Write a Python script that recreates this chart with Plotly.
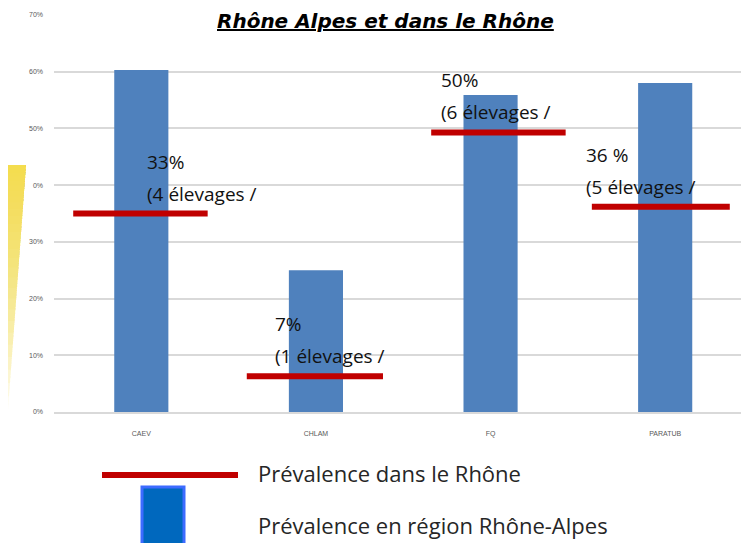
import plotly.graph_objects as go

# data
categories = ["CAEV", "CHLAM", "FQ", "PARATUB"]
region_prev = [0.603, 0.25, 0.559, 0.58]      # Prévalence en région Rhône-Alpes (bars)
rhone_prev = [0.35, 0.063, 0.493, 0.362]      # Prévalence dans le Rhône (red lines)
rhone_pct = ["33%", "7%", "50%", "36 %"]
rhone_farms = ["(4 élevages /", "(1 élevages /", "(6 élevages /", "(5 élevages /"]
y_ticks = [0, 0.1, 0.2, 0.3, 0.4, 0.5, 0.6, 0.7]
y_ticktext = ["0%", "10%", "20%", "30%", "0%", "50%", "60%", "70%"]

# styling offsets (in category units)
line_left = [-0.39, -0.396, -0.34, -0.42]
line_right = [0.38, 0.384, 0.43, 0.37]
label_dx = [0.02, -0.246, -0.293, -0.464]

# the page adds an 8px body margin, so the figure is a bit smaller
OFF = 8
W, H = 749 - OFF, 543 - OFF
L, R, T, B = 46, 0, 7, 131


def px(x):
    # screen pixel -> paper x
    return (x - OFF - L) / (W - L - R)


def py(y):
    # screen pixel -> paper y
    return (H - B - (y - OFF)) / (H - T - B)


fig = go.Figure()

x_idx = list(range(len(categories)))

fig.add_trace(go.Bar(
    x=x_idx, y=region_prev, width=0.31,
    marker=dict(color="#4F81BD", line=dict(width=0)),
    showlegend=False, hoverinfo="skip",
))

lab_font = dict(family="Open Sans", size=19, color="#111111")
for i, v in enumerate(rhone_prev):
    fig.add_trace(go.Scatter(
        x=[i + line_left[i], i + line_right[i]], y=[v, v],
        mode="lines", line=dict(color="#C00000", width=6),
        showlegend=False, hoverinfo="skip",
    ))
    fig.add_annotation(x=i + label_dx[i], y=v, xref="x", yref="y",
                       text=rhone_pct[i], showarrow=False, xanchor="left",
                       yanchor="middle", yshift=52, font=lab_font)
    fig.add_annotation(x=i + label_dx[i], y=v, xref="x", yref="y",
                       text=rhone_farms[i], showarrow=False, xanchor="left",
                       yanchor="middle", yshift=20, font=lab_font)

shapes = []

# white band hiding the top gridline behind the title
shapes.append(dict(type="rect", xref="paper", yref="paper", layer="above",
                   x0=px(185), x1=px(590), y0=py(22), y1=py(9),
                   fillcolor="white", line=dict(width=0)))

# yellow wedge on the left edge, fading downwards:
# stacked translucent wedges that all start at the top give a smooth fade
top, bot, wtop = 165, 410, 18
n = 30
for k in range(1, n + 1):
    yb = top + (bot - top) * (k / n) ** 1.7
    xb = wtop * (1 - (yb - top) / (bot - top))
    path = "M {} {} L {} {} L {} {} L {} {} Z".format(
        px(OFF), py(top), px(OFF + wtop), py(top), px(OFF + xb), py(yb), px(OFF), py(yb))
    shapes.append(dict(type="path", xref="paper", yref="paper", path=path,
                       fillcolor="rgba(247,222,70,0.085)",
                       line=dict(width=0), layer="above"))

# manual legend
shapes.append(dict(type="line", xref="paper", yref="paper",
                   x0=px(102), x1=px(238), y0=py(475), y1=py(475),
                   line=dict(color="#C00000", width=6)))
shapes.append(dict(type="rect", xref="paper", yref="paper",
                   x0=px(142), x1=px(184), y0=py(487), y1=py(548),
                   fillcolor="#0068BE", line=dict(color="#3D6BFF", width=3)))

leg_font = dict(family="Open Sans", size=22, color="#262626")
fig.add_annotation(x=px(256), y=py(473), xref="paper", yref="paper",
                   text="Prévalence dans le Rhône", showarrow=False,
                   xanchor="left", yanchor="middle", font=leg_font)
fig.add_annotation(x=px(256), y=py(525), xref="paper", yref="paper",
                   text="Prévalence en région Rhône-Alpes", showarrow=False,
                   xanchor="left", yanchor="middle", font=leg_font)

# title
fig.add_annotation(x=px(385), y=py(21), xref="paper", yref="paper",
                   text="<b><i><u>Rhône Alpes et dans le Rhône</u></i></b>",
                   showarrow=False, xanchor="center", yanchor="middle",
                   font=dict(family="DejaVu Sans", size=20, color="#000000"))

fig.update_layout(
    width=W, height=H,
    margin=dict(l=L, r=R, t=T, b=B, pad=0),
    paper_bgcolor="white", plot_bgcolor="white",
    shapes=shapes,
    showlegend=False,
)

fig.update_xaxes(
    range=[-0.5, 3.48], tickvals=x_idx, ticktext=categories,
    showgrid=False, zeroline=False, showline=True, linecolor="#D9D9D9",
    linewidth=1.5, ticks="", ticklabelstandoff=14,
    tickfont=dict(family="Liberation Sans", size=7, color="#595959"),
)
fig.update_yaxes(
    range=[0, 0.7], tickvals=y_ticks, ticktext=y_ticktext,
    showgrid=True, gridcolor="#D9D9D9", gridwidth=1.5, zeroline=False,
    showline=False, ticks="", ticklabelstandoff=10,
    tickfont=dict(family="Liberation Sans", size=7, color="#595959"),
)

fig.write_html("out.html")
